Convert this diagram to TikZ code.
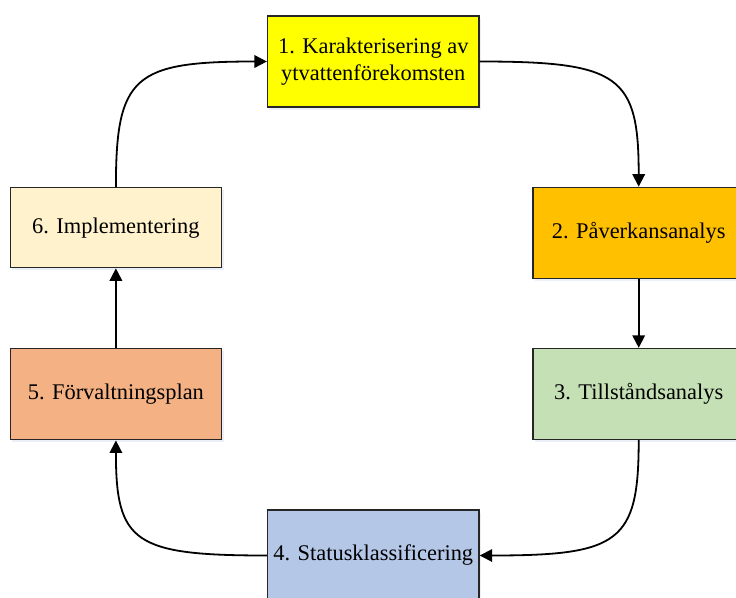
\documentclass[tikz,border=0pt]{standalone}
\usepackage{fontspec}
\setmainfont{Liberation Serif}
\usetikzlibrary{arrows.meta,shadows}

\definecolor{stageyellow}{HTML}{FFFF00}
\definecolor{stageorange}{HTML}{FFC000}
\definecolor{stagegreen}{HTML}{C5E0B4}
\definecolor{stageblue}{HTML}{B4C7E7}
\definecolor{stagesalmon}{HTML}{F4B183}
\definecolor{stagecream}{HTML}{FFF2CC}
\definecolor{shadowblue}{RGB}{214,225,242}
\definecolor{edgegray}{HTML}{262626}

\tikzset{
  stagebox/.style={
    draw=edgegray, line width=1.3pt,
    minimum width=211.5pt, minimum height=91pt,
    inner sep=0pt, align=center,
    font=\fontsize{22.4}{27}\selectfont,
    drop shadow={shadow xshift=2pt, shadow yshift=-2.5pt, fill=shadowblue, draw=none}
  },
  flow/.style={
    draw=black, line width=1.8pt,
    -{Triangle[length=12.5pt,width=12.5pt]}
  }
}

\begin{document}
\begin{tikzpicture}[x=1pt,y=-1pt]
  \useasboundingbox (0,0) rectangle (736,597);
  \clip (0,0) rectangle (736,597);
  \fill[white] (0,0) rectangle (736,597);

  % the six stages of the cycle
  \node[stagebox, fill=stageyellow] (n1) at (373.3,61.5)
    {1. Karakterisering av\\ytvattenförekomsten};
  \node[stagebox, fill=stageorange] (n2) at (638.7,232.8) {2. Påverkansanalys};
  \node[stagebox, fill=stagegreen]  (n3) at (638.7,394.0) {3. Tillståndsanalys};
  \node[stagebox, fill=stageblue]   (n4) at (373.3,555.5) {4. Statusklassificering};
  \node[stagebox, fill=stagesalmon] (n5) at (115.9,394.3) {5. Förvaltningsplan};
  \node[stagebox, fill=stagecream, minimum height=80pt] (n6) at (115.9,227.7)
    {6. Implementering};

  % connectors between consecutive stages
  \draw[flow] (n1.east) .. controls +(140,0) and +(0,-111) .. (n2.north);
  \draw[flow] (n2.south) -- (n3.north);
  \draw[flow] (n3.south) .. controls +(0,102) and +(140,0) .. (n4.east);
  \draw[flow] (n4.west) .. controls +(-133,0) and +(0,102) .. (n5.south);
  \draw[flow] (n5.north) -- (n6.south);
  \draw[flow] (n6.north) .. controls +(0,-111) and +(-133,0) .. (n1.west);
\end{tikzpicture}
\end{document}
